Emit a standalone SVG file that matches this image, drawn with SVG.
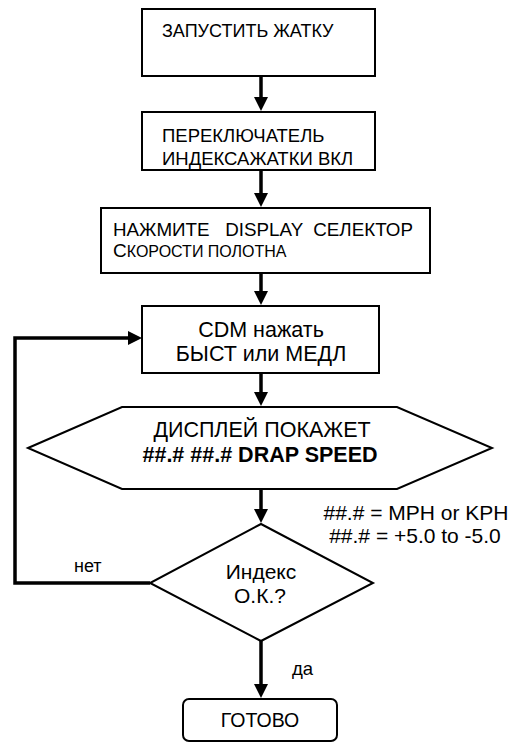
<svg xmlns="http://www.w3.org/2000/svg" width="514" height="744" viewBox="0 0 514 744">
<defs>
<style>
text{font-family:"Liberation Sans",Arial,sans-serif;fill:#000}
.box{fill:#fff;stroke:#000;stroke-width:2}
.c{stroke:#000;stroke-width:3.5;fill:none}
.m{text-anchor:middle}
</style>
<marker id="ah" markerUnits="userSpaceOnUse" markerWidth="14" markerHeight="14" viewBox="0 0 14 14" refX="2" refY="7" orient="auto">
<path d="M0,0 L14,7 L0,14 z" fill="#000"/>
</marker>
</defs>
<rect width="514" height="744" fill="#fff"/>
<g id="connectors">
<line class="c" x1="261" y1="76" x2="261" y2="99" marker-end="url(#ah)"/>
<line class="c" x1="261" y1="170" x2="261" y2="195" marker-end="url(#ah)"/>
<line class="c" x1="261" y1="273" x2="261" y2="293" marker-end="url(#ah)"/>
<line class="c" x1="261" y1="373" x2="261" y2="394" marker-end="url(#ah)"/>
<line class="c" x1="261" y1="489" x2="261" y2="511" marker-end="url(#ah)"/>
<line class="c" x1="261" y1="641" x2="261" y2="686" marker-end="url(#ah)"/>
<path class="c" d="M150,583 H15 V338 H130" marker-end="url(#ah)"/>
<text x="74" y="572" font-size="18">нет</text>
<text x="292" y="675" font-size="18.5">да</text>
</g>
<g id="n1">
<rect class="box" x="142" y="9" width="233" height="67"/>
<text x="162" y="37" font-size="18">ЗАПУСТИТЬ ЖАТКУ</text>
</g>
<g id="n2">
<rect class="box" x="142" y="112" width="233" height="58"/>
<text x="162" y="142" font-size="18.5">ПЕРЕКЛЮЧАТЕЛЬ</text>
<text x="162" y="165" font-size="18.5">ИНДЕКСАЖАТКИ ВКЛ</text>
</g>
<g id="n3">
<rect class="box" x="101" y="208" width="329" height="65"/>
<text x="113" y="236" font-size="18.8" style="white-space:pre">НАЖМИТЕ   DISPLAY  СЕЛЕКТОР</text>
<text x="113" y="257" font-size="19">С<tspan font-size="16">КОРОСТИ ПОЛОТНА</tspan></text>
</g>
<g id="n4">
<rect class="box" x="142" y="306" width="237" height="67"/>
<text class="m" x="261" y="337" font-size="21.5">CDM нажать</text>
<text class="m" x="261" y="361" font-size="21.5">БЫСТ или МЕДЛ</text>
</g>
<g id="n5">
<polygon class="box" points="28,448 122,407 397,407 492,448 397,489 122,489"/>
<text class="m" x="262" y="437" font-size="21.5">ДИСПЛЕЙ ПОКАЖЕТ</text>
<text class="m" x="260" y="462" font-size="21.5" font-weight="bold">##.# ##.# DRAP SPEED</text>
</g>
<g id="note">
<text class="m" x="416" y="520" font-size="21">##.# = MPH or KPH</text>
<text class="m" x="415" y="543" font-size="21">##.# = +5.0 to -5.0</text>
</g>
<g id="n6">
<polygon class="box" points="261,524 373,583 261,641 150,583"/>
<text class="m" x="261" y="579" font-size="21">Индекс</text>
<text class="m" x="260" y="603" font-size="21">О.К.?</text>
</g>
<g id="n7">
<rect class="box" x="183" y="699" width="154" height="42" rx="6"/>
<text class="m" x="260" y="727" font-size="19.5">ГОТОВО</text>
</g>
</svg>
